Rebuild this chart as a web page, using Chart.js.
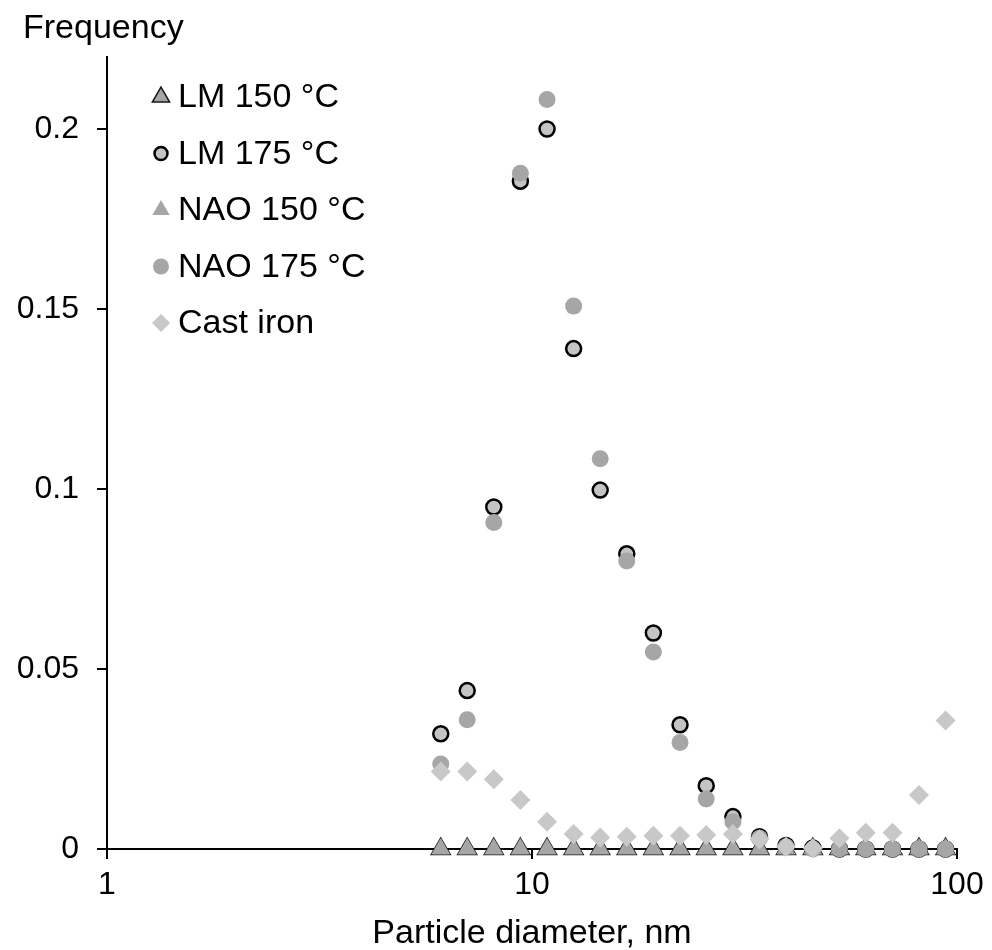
<!DOCTYPE html>
<html>
<head>
<meta charset="utf-8">
<script src="https://cdn.jsdelivr.net/npm/chart.js@4.4.1/dist/chart.umd.min.js"></script>
<style>
  html, body { margin: 0; padding: 0; background: #fff; }
  #wrap { width: 992px; height: 950px; }
</style>
</head>
<body>
<div id="wrap"><canvas id="chart" width="992" height="950"></canvas></div>
<script>
// Particle diameter bins (nm)
const diameters = [6.1, 7.04, 8.13, 9.39, 10.85, 12.53, 14.47, 16.71, 19.3, 22.3,
                   25.7, 29.7, 34.3, 39.6, 45.8, 52.9, 61.0, 70.5, 81.4, 94.0];

// Frequency per bin, one array per sample
const lm150 = [0, 0, 0, 0, 0, 0, 0, 0, 0, 0, 0, 0, 0, 0, 0, 0, 0, 0, 0, 0];
const lm175 = [0.032, 0.044, 0.095, 0.1855, 0.200, 0.139, 0.0997, 0.082, 0.060, 0.0345,
               0.0176, 0.009, 0.0034, 0.001, 0.0003, 0, 0, 0, 0, 0];
const nao150 = [0, 0, 0, 0, 0, 0, 0, 0, 0, 0, 0, 0, 0, 0, 0, 0, 0, 0, 0, 0];
const nao175 = [0.0236, 0.0359, 0.0907, 0.1877, 0.2082, 0.1508, 0.1084, 0.080, 0.0547, 0.0296,
                0.0139, 0.0076, 0.003, 0.0006, 0, 0, 0, 0, 0, 0];
const castIron = [0.0215, 0.0215, 0.0194, 0.0136, 0.0076, 0.0042, 0.0032, 0.0034, 0.0037, 0.0037,
                  0.0039, 0.0042, 0.0027, 0.0006, 0.0002, 0.003, 0.0045, 0.0045, 0.015, 0.0357];

const xTicks = [1, 10, 100];
const yTicks = [0, 0.05, 0.1, 0.15, 0.2];

const FONT = "'Liberation Sans', Arial, sans-serif";

function pts(values) {
    return values.map((v, i) => ({ x: diameters[i], y: v }));
}

const datasets = [
    { label: 'LM 150 °C', data: pts(lm150), pointStyle: 'triangle', pointRadius: 11,
      backgroundColor: '#a6a6a6', borderColor: '#1a1a1a', borderWidth: 1.5, order: 5, legendRadius: 10 },
    { label: 'LM 175 °C', data: pts(lm175), pointStyle: 'circle', pointRadius: 7.5,
      backgroundColor: '#c4c4c4', borderColor: '#000', borderWidth: 2.5, order: 4, legendRadius: 6.5 },
    { label: 'NAO 150 °C', data: pts(nao150), pointStyle: 'triangle', pointRadius: 11,
      backgroundColor: '#a6a6a6', borderColor: '#a6a6a6', borderWidth: 0, order: 3, legendRadius: 10 },
    { label: 'NAO 175 °C', data: pts(nao175), pointStyle: 'circle', pointRadius: 8.5,
      backgroundColor: '#a6a6a6', borderColor: '#a6a6a6', borderWidth: 0, order: 2, legendRadius: 8 },
    { label: 'Cast iron', data: pts(castIron), pointStyle: 'rectRot', pointRadius: 10,
      backgroundColor: '#c8c8c8', borderColor: '#c8c8c8', borderWidth: 0, order: 1, legendRadius: 9 }
];
datasets.forEach(ds => {
    ds.clip = false;
    ds.showLine = false;
    ds.pointHoverRadius = ds.pointRadius;
    ds.pointBorderWidth = ds.borderWidth;
});

// Legend drawn inside the plot, top-left
const insideLegend = {
    id: 'insideLegend',
    afterDraw(chart) {
        const ctx = chart.ctx;
        const area = chart.chartArea;
        ctx.save();
        chart.data.datasets.forEach((ds, i) => {
            const y = area.top + 40 + i * 56.5;
            const x = area.left + 54;
            ctx.fillStyle = ds.backgroundColor;
            ctx.strokeStyle = ds.borderColor;
            ctx.lineWidth = ds.borderWidth;
            Chart.helpers.drawPoint(ctx, {
                pointStyle: ds.pointStyle, radius: ds.legendRadius,
                borderWidth: ds.borderWidth, rotation: 0
            }, x, y);
            ctx.fillStyle = '#000';
            ctx.font = '34px ' + FONT;
            ctx.textBaseline = 'middle';
            ctx.textAlign = 'left';
            ctx.fillText(ds.label, area.left + 71, y + 1);
        });
        // y axis caption above the axis
        ctx.fillStyle = '#000';
        ctx.font = '34px ' + FONT;
        ctx.textBaseline = 'middle';
        ctx.fillText('Frequency', area.left - 84, area.top - 28);
        ctx.restore();
    }
};

new Chart(document.getElementById('chart'), {
    type: 'scatter',
    data: { datasets: datasets },
    plugins: [insideLegend],
    options: {
        responsive: false,
        animation: false,
        layout: { padding: { top: 57, right: 35, left: 0, bottom: 0 } },
        plugins: { legend: { display: false }, tooltip: { enabled: false } },
        scales: {
            x: {
                type: 'logarithmic',
                min: 1,
                max: 100,
                afterBuildTicks: scale => { scale.ticks = xTicks.map(v => ({ value: v })); },
                afterFit: scale => { scale.height = 101; },
                border: { display: true, color: '#000', width: 2 },
                grid: { display: true, drawOnChartArea: false, drawTicks: true, tickLength: 10, color: '#000', lineWidth: 2 },
                ticks: {
                    color: '#000', font: { family: FONT, size: 32 }, padding: 7,
                    maxRotation: 0, autoSkip: false,
                    callback: v => String(v)
                },
                title: {
                    display: true, text: 'Particle diameter, nm', color: '#000',
                    font: { family: FONT, size: 34 }, padding: { top: 0, bottom: -4 }
                }
            },
            y: {
                min: 0,
                max: 0.22,
                afterBuildTicks: scale => { scale.ticks = yTicks.map(v => ({ value: v })); },
                afterFit: scale => { scale.width = 107; },
                border: { display: true, color: '#000', width: 2 },
                grid: { display: true, drawOnChartArea: false, drawTicks: true, tickLength: 10, color: '#000', lineWidth: 2 },
                ticks: {
                    color: '#000', font: { family: FONT, size: 32 }, padding: 18,
                    callback: v => String(v)
                }
            }
        }
    }
});
</script>
</body>
</html>
